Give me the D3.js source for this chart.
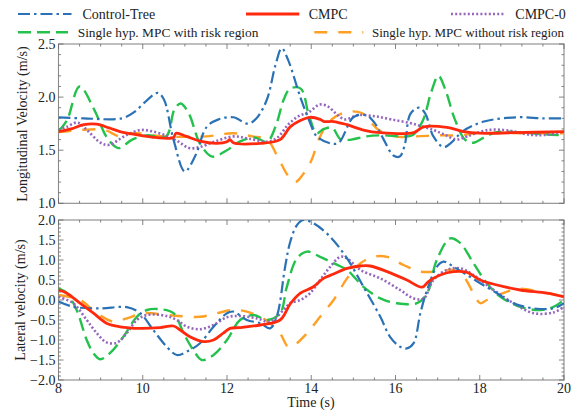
<!DOCTYPE html>
<html><head><meta charset="utf-8">
<script src="https://cdn.jsdelivr.net/npm/d3@7"></script>
<style>body{margin:0;background:#fff}svg{display:block}text{font-family:"Liberation Serif","Times New Roman",serif;fill:#222}</style>
</head><body><svg id="c" width="572" height="412"></svg>
<script>
// ---- data ----
const seriesNames = ["Control-Tree","CMPC","CMPC-0","Single hyp. MPC with risk region","Single hyp. MPC without risk region"];
const xTicks = [8,10,12,14,16,18,20];
const topYTicks = [1.0,1.5,2.0,2.5];
const botYTicks = [-2.0,-1.5,-1.0,-0.5,0.0,0.5,1.0,1.5,2.0];

// Longitudinal velocity: [time, value]
const lonTree = [[8,1.81],[8.6,1.80],[9.5,1.80],[9.8,1.86],[10.1,1.97],[10.35,2.04],[10.5,1.98],[10.73,1.60],[11.0,1.30],[11.25,1.45],[11.52,1.72],[11.8,1.79],[12.15,1.81],[12.5,1.75],[12.7,1.80],[12.95,1.98],[13.15,2.30],[13.3,2.46],[13.45,2.35],[13.74,2.0],[13.95,1.78],[14.13,1.63],[14.45,1.565],[14.65,1.57],[15.0,1.81],[15.3,1.83],[15.5,1.76],[15.72,1.60],[15.95,1.45],[16.1,1.44],[16.22,1.55],[16.35,1.84],[16.55,1.90],[16.7,1.85],[16.9,1.63],[17.14,1.53],[17.35,1.58],[17.6,1.68],[18.1,1.77],[18.9,1.81],[19.5,1.80],[20,1.80]];
const lonCmpc = [[8,1.675],[8.3,1.70],[8.6,1.74],[8.9,1.745],[9.2,1.71],[9.46,1.675],[9.94,1.64],[10.3,1.62],[10.73,1.62],[10.79,1.66],[11.04,1.63],[11.36,1.585],[11.76,1.565],[12.0,1.58],[12.07,1.60],[12.15,1.57],[12.8,1.565],[13.26,1.60],[13.5,1.72],[13.74,1.78],[13.97,1.81],[14.21,1.79],[14.3,1.77],[14.53,1.77],[14.85,1.74],[15.24,1.69],[15.64,1.665],[16.43,1.665],[16.67,1.72],[17.22,1.715],[17.62,1.675],[18.0,1.66],[18.8,1.665],[20,1.675]];
const lonCmpc0 = [[8,1.69],[8.2,1.72],[8.45,1.76],[8.7,1.68],[9.0,1.57],[9.2,1.55],[9.6,1.64],[9.95,1.69],[10.25,1.675],[10.6,1.63],[10.85,1.58],[11.1,1.52],[11.35,1.53],[11.7,1.58],[12.15,1.63],[12.5,1.61],[12.95,1.58],[13.2,1.62],[13.45,1.74],[13.7,1.82],[13.95,1.86],[14.2,1.93],[14.4,1.91],[14.6,1.84],[14.8,1.79],[15.1,1.83],[15.5,1.82],[15.9,1.79],[16.4,1.75],[16.9,1.69],[17.2,1.64],[17.45,1.60],[17.7,1.63],[18.2,1.69],[18.7,1.685],[19.2,1.645],[19.6,1.645],[20,1.675]];
const lonRisk = [[8,1.68],[8.2,1.78],[8.5,2.1],[8.85,1.88],[9.15,1.62],[9.42,1.52],[9.75,1.60],[10.1,1.64],[10.55,1.63],[10.75,1.88],[10.9,1.94],[11.1,1.84],[11.35,1.57],[11.65,1.44],[12.0,1.50],[12.3,1.58],[12.65,1.62],[12.95,1.58],[13.15,1.72],[13.35,1.98],[13.5,2.08],[13.75,2.08],[13.95,1.82],[14.13,1.66],[14.3,1.70],[14.5,1.71],[14.7,1.60],[14.95,1.60],[15.3,1.63],[15.7,1.64],[16.1,1.63],[16.4,1.64],[16.65,1.78],[16.85,2.05],[17.02,2.20],[17.2,2.05],[17.4,1.80],[17.65,1.60],[17.85,1.57],[18.1,1.62],[18.4,1.67],[18.9,1.67],[19.5,1.65],[20,1.64]];
const lonNoRisk = [[8,1.67],[8.5,1.69],[9.1,1.69],[9.45,1.63],[9.8,1.66],[10.5,1.63],[11.5,1.63],[12.15,1.66],[12.6,1.63],[12.95,1.60],[13.2,1.44],[13.45,1.26],[13.62,1.20],[13.8,1.27],[14.0,1.40],[14.2,1.62],[14.45,1.78],[14.85,1.86],[15.2,1.85],[15.4,1.77],[15.6,1.69],[16.0,1.63],[16.5,1.63],[17.0,1.64],[17.5,1.64],[18.0,1.66],[19.0,1.66],[20,1.66]];

// Lateral velocity: [time, value]
const latTree = [[8,-0.04],[8.35,-0.17],[8.99,-0.21],[9.62,-0.18],[9.94,-0.33],[10.25,-0.75],[10.57,-1.17],[10.81,-1.375],[11.05,-1.29],[11.36,-1.08],[11.68,-0.67],[12.0,-0.33],[12.15,-0.29],[12.47,-0.50],[12.79,-0.58],[13.02,-0.71],[13.18,-0.42],[13.38,0.83],[13.5,1.45],[13.66,1.87],[13.81,2.0],[14.05,1.92],[14.45,1.58],[14.85,1.04],[15.24,0.33],[15.64,-0.42],[15.87,-0.92],[16.11,-1.17],[16.27,-1.21],[16.43,-1.08],[16.59,-0.33],[16.75,0.25],[16.98,0.83],[17.14,0.96],[17.38,0.83],[17.7,0.625],[18.01,0.42],[18.41,0.17],[18.8,-0.08],[19.28,-0.21],[19.75,-0.21],[20,-0.08]];
const latCmpc = [[8,0.25],[8.2,0.17],[8.51,-0.08],[8.83,-0.33],[9.14,-0.58],[9.46,-0.67],[9.94,-0.71],[10.41,-0.69],[10.73,-0.65],[10.89,-0.75],[11.12,-0.92],[11.44,-1.04],[11.68,-1.0],[11.91,-0.83],[12.07,-0.71],[12.3,-0.69],[12.79,-0.625],[13.26,-0.50],[13.5,-0.10],[13.74,0.17],[14.05,0.33],[14.29,0.54],[14.53,0.65],[14.85,0.79],[15.17,0.85],[15.4,0.85],[15.8,0.71],[16.27,0.50],[16.63,0.32],[16.78,0.46],[17.06,0.625],[17.38,0.71],[17.7,0.69],[18.01,0.50],[18.41,0.375],[18.96,0.25],[19.6,0.17],[20,0.08]];
const latCmpc0 = [[8,0.08],[8.35,-0.08],[8.67,-0.5],[8.91,-0.83],[9.14,-1.06],[9.38,-1.07],[9.62,-0.83],[9.86,-0.5],[10.1,-0.375],[10.57,-0.40],[10.81,-0.50],[11.05,-0.67],[11.36,-0.73],[11.68,-0.625],[12.0,-0.43],[12.31,-0.40],[12.71,-0.46],[13.02,-0.54],[13.34,-0.25],[13.5,-0.08],[13.74,0.0],[13.97,0.17],[14.21,0.5],[14.45,0.83],[14.69,1.08],[14.85,1.04],[15.17,0.75],[15.64,0.54],[16.11,0.25],[16.43,0.04],[16.67,0.04],[16.9,0.5],[17.22,0.75],[17.54,0.79],[17.85,0.625],[18.33,0.25],[18.8,-0.08],[19.28,-0.33],[19.75,-0.31],[20,-0.17]];
const latRisk = [[8,0.29],[8.2,0.17],[8.43,-0.25],[8.67,-1.0],[8.83,-1.33],[8.99,-1.48],[9.22,-1.33],[9.54,-0.92],[9.86,-0.42],[10.1,-0.25],[10.41,-0.23],[10.73,-0.33],[10.97,-0.83],[11.2,-1.25],[11.4,-1.5],[11.68,-1.375],[12.0,-1.0],[12.31,-0.5],[12.63,-0.375],[12.95,-0.5],[13.26,-0.33],[13.42,0.33],[13.66,1.04],[13.9,1.21],[14.21,1.08],[14.53,0.92],[14.85,0.75],[15.24,0.33],[15.64,0.04],[16.03,-0.08],[16.51,-0.08],[16.75,0.17],[16.98,1.0],[17.3,1.54],[17.54,1.42],[17.85,0.92],[18.17,0.42],[18.49,0.08],[18.96,-0.17],[19.44,-0.25],[19.75,-0.17],[20,0.0]];
const latNoRisk = [[8,0.125],[8.51,0.0],[8.91,-0.33],[9.3,-0.54],[9.62,-0.46],[10.02,-0.33],[10.57,-0.375],[11.36,-0.42],[11.76,-0.33],[12.15,-0.25],[12.47,-0.29],[12.79,-0.42],[13.02,-0.58],[13.26,-0.83],[13.45,-1.17],[13.58,-1.14],[13.9,-0.83],[14.21,-0.42],[14.53,0.0],[14.85,0.54],[15.17,0.92],[15.48,1.08],[15.8,1.08],[16.19,0.875],[16.59,0.71],[16.98,0.71],[17.38,0.75],[17.62,0.58],[17.85,0.17],[18.01,-0.08],[18.17,0.0],[18.65,0.21],[18.96,0.28],[19.5,0.19],[20,0.09]];

// ---- styles ----
const styles = {
  "Control-Tree": {color:"#2a72b5", w:2.2, dash:"12,4,2.5,4"},
  "CMPC": {color:"#ff2a0e", w:2.8, dash:null},
  "CMPC-0": {color:"#9467bd", w:2.6, dash:"2,2.2"},
  "Single hyp. MPC with risk region": {color:"#24c14c", w:2.4, dash:"13,6"},
  "Single hyp. MPC without risk region": {color:"#ffa024", w:2.4, dash:"13,11"}
};
const order = ["Single hyp. MPC without risk region","Single hyp. MPC with risk region","CMPC-0","Control-Tree","CMPC"];

const svg = d3.select("#c");
const L = 58.5, R = 564;
const x = d3.scaleLinear().domain([8,20]).range([L,R]);
const yTop = d3.scaleLinear().domain([1.0,2.5]).range([203.3,44]);
const yBot = d3.scaleLinear().domain([-2.0,2.0]).range([380,220]);

function panel(y, data, yTicks, showX){
  const g = svg.append("g");
  const [y0,y1] = y.range();
  g.append("rect").attr("x",L).attr("y",y1).attr("width",R-L).attr("height",y0-y1)
   .attr("fill","none").attr("stroke","#8a8a8a").attr("stroke-width",1.1);
  const tickCol = "#666";
  const xMinor = d3.range(8,20.01,0.5);
  const yd = y.domain();
  const yMinor = d3.range(Math.round(yd[0]*10), Math.round(yd[1]*10)+1).map(v=>v/10);
  xMinor.forEach(v=>{
    const major = Math.abs(v/2-Math.round(v/2))<1e-6;
    const len = major?5:2.5;
    g.append("line").attr("x1",x(v)).attr("x2",x(v)).attr("y1",y0).attr("y2",y0-len).attr("stroke",tickCol).attr("stroke-width",0.8);
    g.append("line").attr("x1",x(v)).attr("x2",x(v)).attr("y1",y1).attr("y2",y1+len).attr("stroke",tickCol).attr("stroke-width",0.8);
  });
  yMinor.forEach(v=>{
    const major = Math.abs(v*2-Math.round(v*2))<1e-6;
    const len = major?5:2.5;
    g.append("line").attr("x1",L).attr("x2",L+len).attr("y1",y(v)).attr("y2",y(v)).attr("stroke",tickCol).attr("stroke-width",0.8);
    g.append("line").attr("x1",R).attr("x2",R-len).attr("y1",y(v)).attr("y2",y(v)).attr("stroke",tickCol).attr("stroke-width",0.8);
  });
  yTicks.forEach(v=>{
    g.append("text").attr("x",L-3).attr("y",y(v)).attr("dy","0.35em").attr("text-anchor","end")
     .attr("font-size",14).text(d3.format(".1f")(v).replace("-","\u2212"));
  });
  if(showX){
    xTicks.forEach(v=>{
      g.append("text").attr("x",x(v)).attr("y",y0+13).attr("text-anchor","middle").attr("font-size",14).text(v);
    });
  }
  const clipId = "clip"+Math.round(y1);
  svg.append("clipPath").attr("id",clipId).append("rect").attr("x",L).attr("y",y1).attr("width",R-L).attr("height",y0-y1);
  const line = d3.line().x(d=>x(d[0])).y(d=>y(d[1])).curve(d3.curveCatmullRom.alpha(0.5));
  order.forEach(name=>{
    const s = styles[name];
    svg.append("path").attr("d",line(data[name])).attr("fill","none").attr("stroke",s.color)
      .attr("stroke-width",s.w).attr("stroke-dasharray",s.dash).attr("clip-path",`url(#${clipId})`);
  });
}

panel(yTop, {"Control-Tree":lonTree,"CMPC":lonCmpc,"CMPC-0":lonCmpc0,
  "Single hyp. MPC with risk region":lonRisk,"Single hyp. MPC without risk region":lonNoRisk}, topYTicks, false);
panel(yBot, {"Control-Tree":latTree,"CMPC":latCmpc,"CMPC-0":latCmpc0,
  "Single hyp. MPC with risk region":latRisk,"Single hyp. MPC without risk region":latNoRisk}, botYTicks, true);

// axis titles
svg.append("text").attr("transform","translate(22,124) rotate(-90)").attr("text-anchor","middle").attr("dy","0.35em").attr("font-size",14).text("Longitudinal Velocity (m/s)");
svg.append("text").attr("transform","translate(20,300) rotate(-90)").attr("text-anchor","middle").attr("dy","0.35em").attr("font-size",14).text("Lateral velocity (m/s)");
svg.append("text").attr("x",311).attr("y",407).attr("text-anchor","middle").attr("font-size",14).text("Time (s)");

// legend
const leg = [
  {name:"Control-Tree", x1:18, x2:71.5, tx:82.5, y:14, fs:14},
  {name:"CMPC", x1:246, x2:299.3, tx:308.7, y:14, fs:14},
  {name:"CMPC-0", x1:451, x2:504.3, tx:515.3, y:14, fs:14},
  {name:"Single hyp. MPC with risk region", x1:18, x2:68, tx:77.7, y:32.3, fs:13.4},
  {name:"Single hyp. MPC without risk region", x1:314.3, x2:363.3, tx:372, y:32.3, fs:13}
];
leg.forEach(d=>{
  const s = styles[d.name];
  svg.append("line").attr("x1",d.x1).attr("x2",d.x2).attr("y1",d.y).attr("y2",d.y)
    .attr("stroke",s.color).attr("stroke-width",s.w).attr("stroke-dasharray",s.dash);
  svg.append("text").attr("x",d.tx).attr("y",d.y).attr("dy","0.35em").attr("font-size",d.fs).text(d.name);
});
</script></body></html>
